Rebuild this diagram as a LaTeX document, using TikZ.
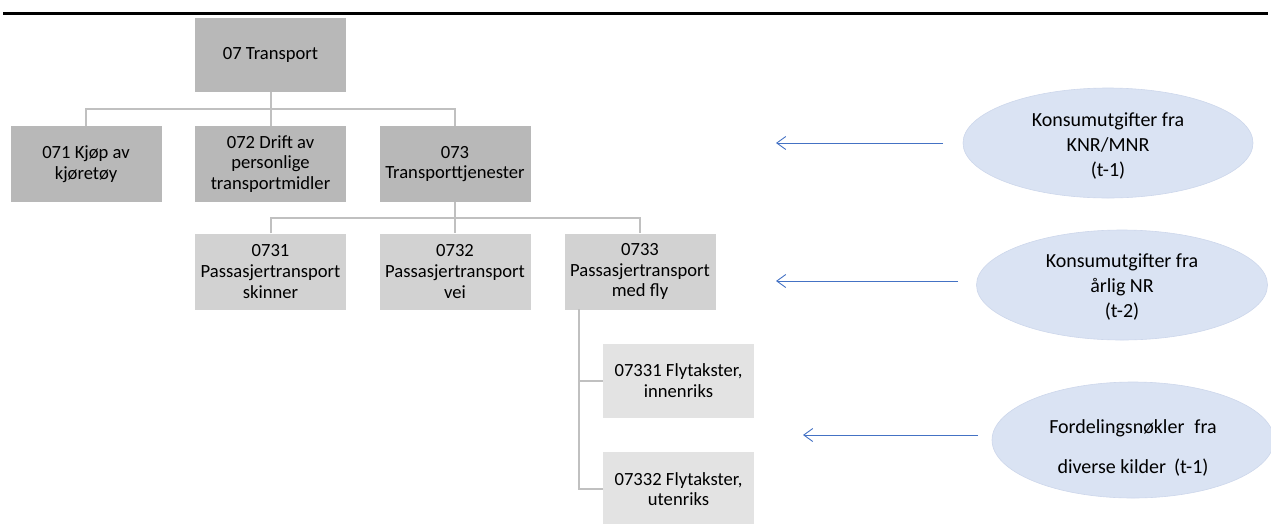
\documentclass[tikz,border=0pt]{standalone}
\usepackage{fontspec}
\setmainfont{Carlito}
\usetikzlibrary{arrows.meta,shapes.geometric}
\definecolor{gA}{HTML}{B8B8B8}
\definecolor{gB}{HTML}{D2D2D2}
\definecolor{gC}{HTML}{E3E3E3}
\definecolor{lineg}{HTML}{C0C0C0}
\definecolor{ellf}{HTML}{DAE3F3}
\definecolor{elld}{HTML}{CDD7EB}
\definecolor{arrb}{HTML}{4472C4}
\tikzset{
  boxbase/.style={rectangle, inner sep=0pt, align=center, minimum width=151pt,
    font=\fontsize{18.6}{20.8}\selectfont, text=black},
  lvlA/.style={boxbase, fill=gA, minimum height=76pt},
  lvlB/.style={boxbase, fill=gB, minimum height=76pt},
  lvlC/.style={boxbase, fill=gC, minimum height=74pt},
  conn/.style={draw=lineg, line width=2pt},
  src/.style={ellipse, fill=ellf, draw=elld, line width=0.6pt, inner sep=0pt, align=center},
  arr/.style={draw=arrb, line width=0.9pt, -{Straight Barb[length=9pt,width=13pt]}}
}
\begin{document}
\begin{tikzpicture}[x=1pt,y=-1pt]
\useasboundingbox (0,0) rectangle (1271,523);
% top rule
\fill[black] (3,11.5) rectangle (1268,14.5);
% tree
\node[lvlA, minimum height=74pt] (t07) at (270.5,55) {07 Transport};
\node[lvlA] (n071) at (86,164) {071 Kjøp av\\kjøretøy};
\node[lvlA] (n072) at (270.5,164) {072 Drift av\\personlige\\transportmidler};
\node[lvlA] (n073) at (455,164) {073\\Transporttjenester};
\node[lvlB] (n0731) at (270.5,271.5) {0731\\Passasjertransport\\skinner};
\node[lvlB] (n0732) at (455,271.5) {0732\\Passasjertransport\\vei};
\node[lvlB] (n0733) at (640,271.5) {0733\\Passasjertransport\\med fly};
\node[lvlC] (n07331) at (678.5,381) {07331 Flytakster,\\innenriks};
\node[lvlC] (n07332) at (678.5,489) {07332 Flytakster,\\utenriks};
% connectors
\draw[conn] (t07.south) -- (n072.north);
\draw[conn] (n071.north) -- ++(0,-17) -| (n073.north);
\draw[conn] (n073.south) -- (n0732.north);
\draw[conn] (n0731.north) -- ++(0,-15) -| (n0733.north);
\coordinate (v3) at (579,309);
\draw[conn] (v3) |- (n07331.west);
\draw[conn] (v3) |- (n07332.west);
% sources
\node[src, minimum width=290pt, minimum height=110pt, font=\fontsize{20}{25}\selectfont] (e1) at (1108,143)
  {\rule{0pt}{20pt}Konsumutgifter fra\\KNR/MNR\\(t-1)};
\node[src, minimum width=291pt, minimum height=110pt, font=\fontsize{20}{25}\selectfont] (e2) at (1122,285)
  {\rule{0pt}{17pt}Konsumutgifter fra\\årlig NR\\(t-2)};
\node[src, minimum width=282pt, minimum height=116pt, font=\fontsize{20}{40}\selectfont] (e3) at (1133,440)
  {\rule{0pt}{30pt}Fordelingsnøkler\hspace{10pt}fra\\diverse kilder\hspace{8pt}(t-1)};
% arrows
\coordinate (a1s) at (943,143);
\coordinate (a1e) at (776,143);
\coordinate (a2s) at (958,281);
\coordinate (a2e) at (776,281);
\coordinate (a3s) at (978,435);
\coordinate (a3e) at (803,435);
\draw[arr] (a1s) -- (a1e);
\draw[arr] (a2s) -- (a2e);
\draw[arr] (a3s) -- (a3e);
\end{tikzpicture}
\end{document}
